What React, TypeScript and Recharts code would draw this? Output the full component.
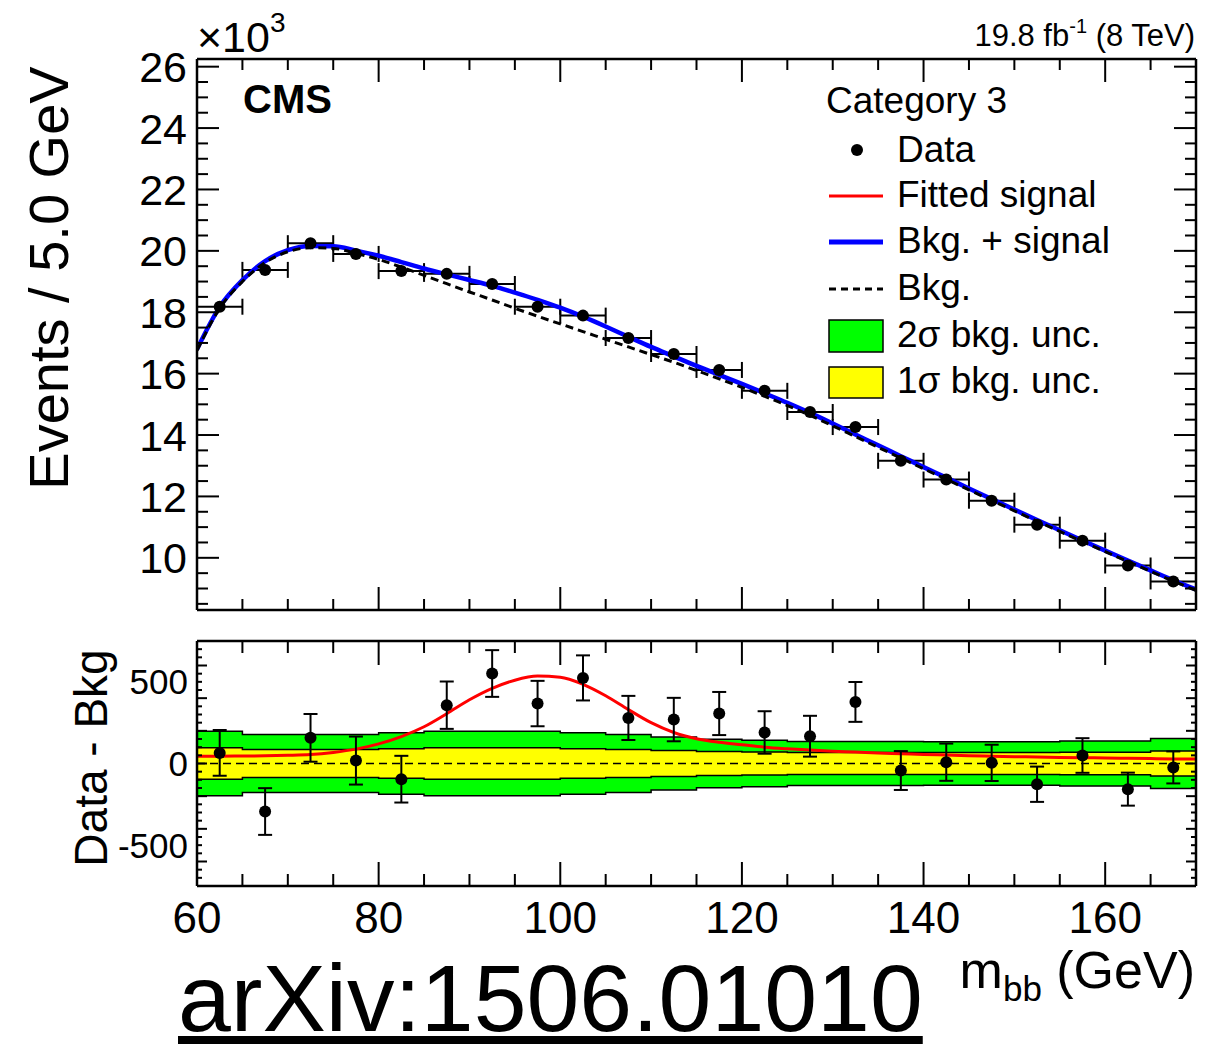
import React from 'react';
import { ComposedChart, Line, Scatter, Area, XAxis, YAxis, ErrorBar, Legend } from 'recharts';

const FONT = "'Liberation Sans', Arial, Helvetica, sans-serif";

// 5 GeV bins in m_bb
const binEdges = [60, 65, 70, 75, 80, 85, 90, 95, 100, 105, 110, 115, 120, 125, 130, 135, 140, 145, 150, 155, 160, 165, 170];
const binCenters = [62.5, 67.5, 72.5, 77.5, 82.5, 87.5, 92.5, 97.5, 102.5, 107.5, 112.5, 117.5, 122.5, 127.5, 132.5, 137.5, 142.5, 147.5, 152.5, 157.5, 162.5, 167.5];
const binHalfWidth = 2.5;

// data points (events / 5 GeV) and stat. errors
const dataEvents = [18180, 19380, 20250, 19900, 19340, 19250, 18920, 18180, 17890, 17160, 16640, 16120, 15440, 14750, 14260, 13160, 12550, 11860, 11080, 10560, 9750, 9230];
const dataErr = [140, 143, 146, 147, 143, 145, 143, 139, 138, 135, 133, 132, 130, 125, 122, 119, 114, 111, 108, 106, 101, 98];
const dataMinusBkg = [65, -294, 157, 18, -96, 357, 551, 367, 524, 279, 269, 306, 190, 167, 377, -43, 8, 4, -127, 49, -157, -24];

// fitted curves, sampled every 2.5 GeV
const curveX = [60, 62.5, 65, 67.5, 70, 72.5, 75, 77.5, 80, 82.5, 85, 87.5, 90, 92.5, 95, 97.5, 100, 102.5, 105, 107.5, 110, 112.5, 115, 117.5, 120, 122.5, 125, 127.5, 130, 132.5, 135, 137.5, 140, 142.5, 145, 147.5, 150, 152.5, 155, 157.5, 160, 162.5, 165, 167.5, 170];
const bkgCurve = [16750, 18130, 19000, 19620, 19970, 20100, 20080, 19920, 19720, 19470, 19200, 18930, 18660, 18400, 18130, 17870, 17620, 17370, 17120, 16870, 16620, 16370, 16100, 15830, 15550, 15260, 14960, 14640, 14300, 13950, 13600, 13250, 12900, 12560, 12210, 11870, 11530, 11190, 10860, 10530, 10200, 9880, 9560, 9240, 8940];
const bkgSigCurve = [16795, 18175, 19046, 19667, 20020, 20155, 20148, 20008, 19840, 19635, 19425, 19235, 19050, 18860, 18640, 18405, 18148, 17855, 17535, 17200, 16870, 16560, 16252, 15960, 15665, 15360, 15050, 14722, 14375, 14020, 13664, 13310, 12955, 12612, 12258, 11915, 11572, 11230, 10897, 10565, 10234, 9912, 9590, 9268, 8967];
const signalCurve = [45, 45, 46, 47, 50, 55, 68, 88, 120, 165, 225, 305, 390, 460, 510, 535, 528, 485, 415, 330, 250, 190, 152, 130, 115, 100, 90, 82, 75, 70, 64, 60, 55, 52, 48, 45, 42, 40, 37, 35, 34, 32, 30, 28, 27];

// bkg. uncertainty half-widths per bin
const band2Half = [198, 178, 178, 178, 188, 198, 198, 198, 188, 178, 163, 149, 143, 135, 135, 135, 133, 133, 133, 138, 138, 153];
const band1Half = [96, 86, 86, 86, 91, 96, 96, 96, 91, 86, 80, 74, 70, 67, 67, 67, 67, 67, 67, 69, 69, 76];

// axis labels
const xLabels = [60, 80, 100, 120, 140, 160];
const topYLabels = [10000, 12000, 14000, 16000, 18000, 20000, 22000, 24000, 26000];
const resYLabels = [-500, 0, 500];
const topYTicks = Array.from({ length: 36 }, (_, i) => 8500 + i * 500);
const resYTicks = Array.from({ length: 29 }, (_, i) => -700 + i * 50);

const topRows = binCenters.map((x, i) => ({ x, y: dataEvents[i], ex: binHalfWidth, ey: dataErr[i] }));
const resRows = binCenters.map((x, i) => ({ x, y: dataMinusBkg[i], ey: dataErr[i] }));
const bkgRows = curveX.map((x, i) => ({ x, y: bkgCurve[i] }));
const totRows = curveX.map((x, i) => ({ x, y: bkgSigCurve[i] }));
const sigRows = curveX.map((x, i) => ({ x, y: signalCurve[i] }));
const bandRows = binEdges.map((x, i) => {
  const j = Math.min(i, band2Half.length - 1);
  return { x, g2: [-band2Half[j], band2Half[j]], g1: [-band1Half[j], band1Half[j]] };
});
const zeroRows = [{ x: 60, y: 0 }, { x: 170, y: 0 }];

type TickCfg = {
  side: 'left' | 'right' | 'top' | 'bottom';
  major: number;
  majorLen: number;
  minorLen: number;
  labels?: number[];
  fmt?: (v: number) => string;
  fontSize?: number;
  gap?: number;
};

// ROOT-style ticks pointing into the frame, labels only on chosen values
function frameTick(cfg: TickCfg) {
  return (props: any) => {
    const { x, y, payload } = props;
    const v = payload.value as number;
    const q = v / cfg.major;
    const len = Math.abs(q - Math.round(q)) < 1e-6 ? cfg.majorLen : cfg.minorLen;
    let x2 = x;
    let y2 = y;
    if (cfg.side === 'left') x2 = x + len;
    if (cfg.side === 'right') x2 = x - len;
    if (cfg.side === 'bottom') y2 = y - len;
    if (cfg.side === 'top') y2 = y + len;
    const show = cfg.labels && cfg.labels.some((l) => Math.abs(l - v) < 1e-6);
    const text = cfg.fmt ? cfg.fmt(v) : String(v);
    return (
      <g>
        <line x1={x} y1={y} x2={x2} y2={y2} stroke="#000" strokeWidth={2} />
        {show && cfg.side === 'left' && (
          <text x={x - (cfg.gap || 0)} y={y} dy="0.36em" textAnchor="end" fontSize={cfg.fontSize} fontFamily={FONT} fill="#000">
            {text}
          </text>
        )}
        {show && cfg.side === 'bottom' && (
          <text x={x} y={y + (cfg.gap || 0)} textAnchor="middle" fontSize={cfg.fontSize} fontFamily={FONT} fill="#000">
            {text}
          </text>
        )}
      </g>
    );
  };
}

const frame = { stroke: '#000', strokeWidth: 2.5 };

const dot = (p: any) => <circle cx={p.cx} cy={p.cy} r={6} fill="#000" />;

function LegendBox() {
  const t = { fontFamily: FONT, fontSize: 37, fill: '#000' };
  return (
    <svg width={400} height={340}>
      <text x={26} y={43} {...t}>Category 3</text>
      <circle cx={57} cy={80} r={6} fill="#000" />
      <text x={97} y={92} {...t}>Data</text>
      <line x1={29} x2={83} y1={126} y2={126} stroke="#ff0000" strokeWidth={3} />
      <text x={97} y={137} {...t}>Fitted signal</text>
      <line x1={29} x2={83} y1={172} y2={172} stroke="#0000ff" strokeWidth={5} />
      <text x={97} y={183} {...t}>Bkg. + signal</text>
      <line x1={29} x2={83} y1={219} y2={219} stroke="#000" strokeWidth={3} strokeDasharray="7 5" />
      <text x={97} y={230} {...t}>Bkg.</text>
      <rect x={29} y={250} width={54} height={32} fill="#00ff00" stroke="#000" strokeWidth={1.5} />
      <text x={97} y={277} {...t}>2σ bkg. unc.</text>
      <rect x={29} y={297} width={54} height={31} fill="#ffff00" stroke="#000" strokeWidth={1.5} />
      <text x={97} y={323} {...t}>1σ bkg. unc.</text>
    </svg>
  );
}

export default function App() {
  return (
    <div style={{ position: 'absolute', left: 0, top: 0, width: 1220, height: 1044, background: '#fff', overflow: 'hidden' }}>
      <div style={{ position: 'absolute', left: 0, top: 0 }}>
        <ComposedChart width={1220} height={620} margin={{ top: 58, right: 23, bottom: 9, left: 0 }}>
          <XAxis dataKey="x" type="number" domain={[60, 170]} allowDataOverflow ticks={binEdges} interval={0} height={1}
            tickSize={0} tickMargin={0} axisLine={frame} tickLine={false}
            tick={frameTick({ side: 'bottom', major: 20, majorLen: 23, minorLen: 11 })} />
          <XAxis xAxisId="top" orientation="top" dataKey="x" type="number" domain={[60, 170]} allowDataOverflow ticks={binEdges} interval={0} height={1}
            tickSize={0} tickMargin={0} axisLine={frame} tickLine={false}
            tick={frameTick({ side: 'top', major: 20, majorLen: 23, minorLen: 11 })} />
          <YAxis type="number" domain={[8300, 26250]} allowDataOverflow ticks={topYTicks} interval={0} width={197}
            tickSize={0} tickMargin={0} axisLine={frame} tickLine={false}
            tick={frameTick({ side: 'left', major: 2000, majorLen: 22, minorLen: 11, labels: topYLabels, fmt: (v) => String(v / 1000), fontSize: 43, gap: 10 })} />
          <YAxis yAxisId="right" orientation="right" type="number" domain={[8300, 26250]} allowDataOverflow ticks={topYTicks} interval={0} width={1}
            tickSize={0} tickMargin={0} axisLine={frame} tickLine={false}
            tick={frameTick({ side: 'right', major: 2000, majorLen: 22, minorLen: 11 })} />
          <Scatter data={topRows} dataKey="y" shape={dot} isAnimationActive={false}>
            <ErrorBar dataKey="ex" direction="x" width={8} stroke="#000" strokeWidth={2} isAnimationActive={false} />
            <ErrorBar dataKey="ey" direction="y" width={0} stroke="#000" strokeWidth={2} isAnimationActive={false} />
          </Scatter>
          <Line data={totRows} dataKey="y" type="monotone" stroke="#0000ff" strokeWidth={4.5} dot={false} activeDot={false} isAnimationActive={false} />
          <Line data={bkgRows} dataKey="y" type="monotone" stroke="#000" strokeWidth={3} strokeDasharray="8 5" dot={false} activeDot={false} isAnimationActive={false} />
          <Legend layout="vertical" align="center" verticalAlign="middle"
            wrapperStyle={{ left: 800, top: 70, width: 400, height: 340 }}
            content={() => <LegendBox />} />
        </ComposedChart>
      </div>

      <div style={{ position: 'absolute', left: 0, top: 630 }}>
        <ComposedChart width={1220} height={330} margin={{ top: 10, right: 23, bottom: 4, left: 0 }}>
          <XAxis dataKey="x" type="number" domain={[60, 170]} allowDataOverflow ticks={binEdges} interval={0} height={70}
            tickSize={0} tickMargin={0} axisLine={frame} tickLine={false}
            tick={frameTick({ side: 'bottom', major: 20, majorLen: 24, minorLen: 12, labels: xLabels, fontSize: 44, gap: 47 })} />
          <XAxis xAxisId="top" orientation="top" dataKey="x" type="number" domain={[60, 170]} allowDataOverflow ticks={binEdges} interval={0} height={1}
            tickSize={0} tickMargin={0} axisLine={frame} tickLine={false}
            tick={frameTick({ side: 'top', major: 20, majorLen: 24, minorLen: 12 })} />
          <YAxis type="number" domain={[-750, 750]} allowDataOverflow ticks={resYTicks} interval={0} width={197}
            tickSize={0} tickMargin={0} axisLine={frame} tickLine={false}
            tick={frameTick({ side: 'left', major: 200, majorLen: 10, minorLen: 5, labels: resYLabels, fontSize: 35, gap: 9 })} />
          <YAxis yAxisId="right" orientation="right" type="number" domain={[-750, 750]} allowDataOverflow ticks={resYTicks} interval={0} width={1}
            tickSize={0} tickMargin={0} axisLine={frame} tickLine={false}
            tick={frameTick({ side: 'right', major: 200, majorLen: 10, minorLen: 5 })} />
          <Area data={bandRows} dataKey="g2" type="stepAfter" fill="#00ff00" fillOpacity={1} stroke="#000" strokeWidth={1.5} dot={false} activeDot={false} isAnimationActive={false} />
          <Area data={bandRows} dataKey="g1" type="stepAfter" fill="#ffff00" fillOpacity={1} stroke="#000" strokeWidth={1.5} dot={false} activeDot={false} isAnimationActive={false} />
          <Line data={zeroRows} dataKey="y" type="linear" stroke="#000" strokeWidth={1.5} strokeDasharray="8 5" dot={false} activeDot={false} isAnimationActive={false} />
          <Line data={sigRows} dataKey="y" type="monotone" stroke="#ff0000" strokeWidth={3} dot={false} activeDot={false} isAnimationActive={false} />
          <Scatter data={resRows} dataKey="y" shape={dot} isAnimationActive={false}>
            <ErrorBar dataKey="ey" direction="y" width={7} stroke="#000" strokeWidth={2} isAnimationActive={false} />
          </Scatter>
        </ComposedChart>
      </div>

      <svg width={1220} height={1044} style={{ position: 'absolute', left: 0, top: 0, pointerEvents: 'none' }} fontFamily={FONT}>
        <text x={197} y={52} fontSize={43} fill="#000">×10<tspan fontSize={28} dy={-20}>3</tspan></text>
        <text x={1195} y={46} fontSize={31} textAnchor="end" fill="#000">
          19.8 fb<tspan fontSize={20} dy={-13}>-1</tspan><tspan dy={13}> (8 TeV)</tspan>
        </text>
        <text x={243} y={113} fontSize={40} fontWeight="bold" fill="#000">CMS</text>
        <text transform="translate(68,278) rotate(-90)" textAnchor="middle" fontSize={56} fill="#000">Events / 5.0 GeV</text>
        <text transform="translate(107,758) rotate(-90)" textAnchor="middle" fontSize={46} fill="#000">Data - Bkg</text>
        <text x={1195} y={988} textAnchor="end" fontSize={52} fill="#000">
          m<tspan fontSize={35} dy={13}>bb</tspan><tspan dy={-13}> (GeV)</tspan>
        </text>
        <text x={178} y={1031} fontSize={95} textDecoration="underline" fill="#000">arXiv:1506.01010</text>
      </svg>
    </div>
  );
}
